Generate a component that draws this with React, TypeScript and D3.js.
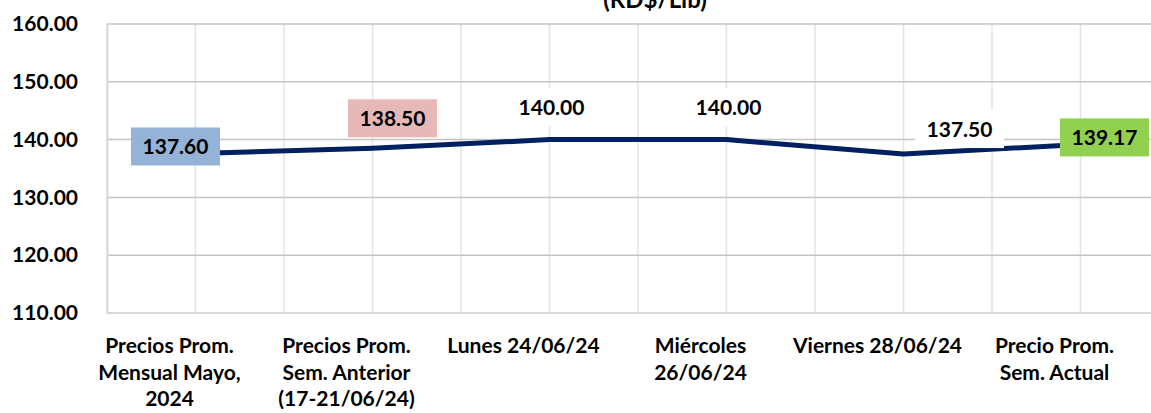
import React from 'react';
import { scaleLinear, scaleBand, line, select, axisLeft } from 'd3';

const categories = [
  ['Precios Prom.', 'Mensual Mayo,', '2024'],
  ['Precios Prom.', 'Sem. Anterior', '(17-21/06/24)'],
  ['Lunes  24/06/24'],
  ['Miércoles', '26/06/24'],
  ['Viernes 28/06/24'],
  ['Precio Prom.', 'Sem. Actual'],
];
const prices = [137.6, 138.5, 140.0, 140.0, 137.5, 139.17];
const yTicks = [110, 120, 130, 140, 150, 160];
const title = '(RD$/Lib)';

// label box fill per point (Excel data label styling)
const labelFills = ['#95B3D7', '#E6B9B8', '#FFFFFF', '#FFFFFF', '#FFFFFF', '#92D050'];
// where Excel put each label, relative to its point
const labelOffsets = [[-20, -7], [20, -30], [2, -32], [2, -32], [56, -25], [24, -7]];

const W = 1151;
const H = 413;
const m = { left: 107, top: 24, right: 1169, bottom: 313 };
const font = 'Lato, "Open Sans", sans-serif';

const App: React.FC = () => {
  const gRef = React.useRef<SVGGElement>(null);

  const x = scaleBand<number>()
    .domain(categories.map((_, i) => i))
    .range([m.left, m.right]);
  const y = scaleLinear().domain([110, 160]).range([m.bottom, m.top]);
  const cx = (i: number) => (x(i) as number) + x.bandwidth() / 2;

  React.useEffect(() => {
    const g = select(gRef.current);
    g.selectAll('*').remove();

    // vertical gridlines: band edges + band centers
    const vlines: number[] = [];
    categories.forEach((_, i) => {
      vlines.push(x(i) as number);
      vlines.push(cx(i));
    });
    vlines.push(m.right);
    g.append('g')
      .selectAll('line')
      .data(vlines)
      .join('line')
      .attr('x1', d => d).attr('x2', d => d)
      .attr('y1', m.top).attr('y2', m.bottom)
      .attr('stroke', '#E3E3E3')
      .attr('stroke-width', 1.5);

    // horizontal gridlines
    g.append('g')
      .selectAll('line')
      .data(yTicks)
      .join('line')
      .attr('x1', m.left).attr('x2', m.right)
      .attr('y1', d => y(d)).attr('y2', d => y(d))
      .attr('stroke', d => (d === 110 ? '#D9D9D9' : '#C4C4C4'))
      .attr('stroke-width', d => (d === 110 ? 2 : 1.5));

    const yAxis = axisLeft(y).tickValues(yTicks).tickSize(0).tickPadding(29).tickFormat(d => (d as number).toFixed(2));
    const ya = g.append('g').attr('transform', `translate(${m.left},0)`).call(yAxis);
    ya.select('.domain').attr('stroke', '#D9D9D9').attr('stroke-width', 2);
    ya.selectAll('text')
      .attr('font-family', font)
      .attr('font-weight', 700)
      .attr('font-size', 21)
      .attr('fill', '#000');

    // category labels
    const cats = g.append('g')
      .selectAll('text')
      .data(categories)
      .join('text')
      .attr('text-anchor', 'middle')
      .attr('font-family', font)
      .attr('font-weight', 700)
      .attr('font-size', 21)
      .attr('fill', '#000');
    cats.each(function (lines, i) {
      select(this)
        .selectAll('tspan')
        .data(lines)
        .join('tspan')
        .attr('x', cx(i) - 26)
        .attr('y', (_, j) => 353 + j * 26.5)
        .text(d => d);
    });

    const pathGen = line<number>()
      .x((_, i) => cx(i))
      .y(d => y(d));
    g.append('path')
      .datum(prices)
      .attr('d', pathGen)
      .attr('fill', 'none')
      .attr('stroke', '#002060')
      .attr('stroke-width', 5)
      .attr('stroke-linejoin', 'round');

    const labels = g.append('g')
      .selectAll('g')
      .data(prices)
      .join('g')
      .attr('transform', (d, i) => `translate(${cx(i) + labelOffsets[i][0]},${y(d) + labelOffsets[i][1]})`);
    labels.append('rect')
      .attr('x', -44.5).attr('y', -19)
      .attr('width', 89).attr('height', 38)
      .attr('fill', (_, i) => labelFills[i]);
    labels.append('text')
      .attr('text-anchor', 'middle')
      .attr('dy', '0.36em')
      .attr('font-family', font)
      .attr('font-weight', 700)
      .attr('font-size', 21)
      .attr('fill', '#000')
      .text(d => d.toFixed(2));

    g.append('text')
      .attr('x', 655)
      .attr('y', 8)
      .attr('text-anchor', 'middle')
      .attr('font-family', font)
      .attr('font-weight', 700)
      .attr('font-size', 24)
      .attr('fill', '#000')
      .text(title);
  }, []);

  return (
    <div style={{ position: 'absolute', left: 0, top: 0 }}>
      <svg width={W} height={H} style={{ display: 'block', background: '#fff' }}>
        <g ref={gRef} />
      </svg>
    </div>
  );
};

export default App;
